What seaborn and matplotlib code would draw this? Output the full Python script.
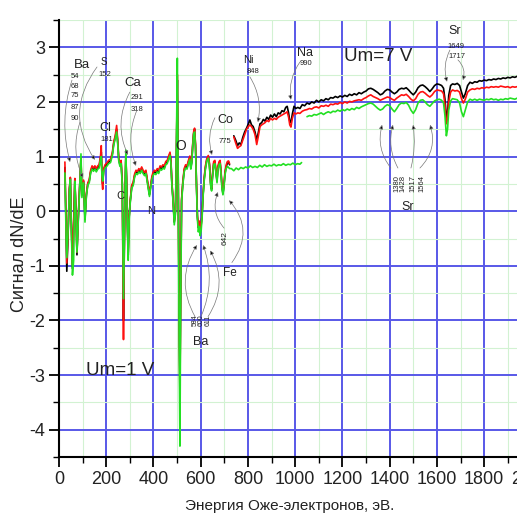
import matplotlib
matplotlib.use("Agg")
import matplotlib.pyplot as plt
from matplotlib.ticker import MultipleLocator
import seaborn as sns
import numpy as np

# ---------------- data ----------------
low_energy = [25, 30, 33, 38, 44, 48, 52, 57, 62, 67, 71, 76, 81, 88, 93, 97, 104, 110, 116, 122,
              128, 134, 140, 146, 152, 158, 164, 170, 176, 179, 182, 185, 189, 195, 202, 210, 218, 226, 232, 238,
              244, 248, 253, 258, 263, 268, 271, 273, 275, 279, 283, 286, 290, 293, 297, 302, 308, 314, 320, 326,
              332, 338, 344, 350, 356, 362, 368, 374, 378, 383, 388, 393, 398, 404, 410, 416, 422, 428, 434, 440,
              446, 452, 458, 464, 470, 474, 478, 483, 488, 493, 497, 501, 505, 509, 512, 515, 519, 524, 530, 536,
              542, 548, 554, 558, 562, 566, 570, 574, 578, 582, 586, 590, 594, 598, 602, 606, 610, 615, 620, 626,
              632, 637, 642, 646, 650, 655, 660, 665, 669, 673, 678, 682, 686, 690, 694, 698, 703, 708, 713, 718,
              722]
low_black = [0.80, -0.30, -1.10, -0.50, 0.40, 0.60, -0.20, -1.05, -0.30, 0.58, 0.10, -0.80, -0.20, 0.50, 0.95, 0.30, 0.55, -0.15, 0.30, 0.50,
             0.55, 0.72, 0.80, 0.76, 0.80, 0.75, 0.80, 0.82, 0.98, 1.08, 0.70, 0.50, 0.75, 0.82, 0.85, 0.90, 0.92, 1.05, 1.25, 1.35,
             1.50, 1.30, 0.95, 0.85, 0.90, 0.50, -1.00, -2.00, -1.20, 0.20, 1.00, 0.60, -0.30, -0.80, -0.10, 0.20, 0.45, 0.50, 0.65, 0.72,
             0.70, 0.75, 0.72, 0.78, 0.72, 0.68, 0.72, 0.55, 0.45, 0.30, 0.45, 0.60, 0.68, 0.72, 0.70, 0.75, 0.72, 0.80, 0.78, 0.82,
             0.80, 0.88, 0.90, 0.98, 1.05, 0.90, 0.50, 0.20, -0.20, 0.00, 1.00, 2.40, 0.50, -2.00, -3.20, -1.50, 0.20, 0.50, 0.75, 0.82,
             0.80, 0.90, 0.98, 0.80, 0.90, 1.20, 1.42, 1.50, 1.20, 0.50, -0.10, -0.30, -0.20, -0.35, -0.25, -0.05, 0.30, 0.60, 0.80, 0.95,
             1.00, 0.85, 0.50, 0.40, 0.65, 0.88, 0.90, 0.70, 0.55, 0.80, 0.88, 0.90, 0.70, 0.45, 0.32, 0.45, 0.70, 0.82, 0.88, 0.90,
             0.85]
low_red = [0.90, -0.20, -0.95, -0.45, 0.42, 0.62, -0.15, -1.00, -0.25, 0.60, 0.12, -0.75, -0.15, 0.52, 0.98, 0.32, 0.57, -0.10, 0.33, 0.52,
           0.58, 0.75, 0.83, 0.79, 0.83, 0.78, 0.83, 0.85, 1.02, 1.20, 0.55, 0.40, 0.78, 0.85, 0.88, 0.93, 0.95, 1.08, 1.28, 1.38,
           1.57, 1.33, 0.98, 0.88, 0.93, 0.52, -1.10, -2.35, -1.30, 0.22, 1.02, 0.62, -0.28, -0.75, -0.08, 0.22, 0.48, 0.53, 0.68, 0.75,
           0.73, 0.78, 0.75, 0.81, 0.75, 0.71, 0.75, 0.58, 0.48, 0.32, 0.48, 0.63, 0.71, 0.75, 0.73, 0.78, 0.75, 0.83, 0.81, 0.85,
           0.83, 0.91, 0.93, 1.01, 1.08, 0.93, 0.52, 0.22, -0.18, 0.02, 1.05, 2.50, 0.40, -2.20, -3.40, -1.60, 0.22, 0.53, 0.78, 0.85,
           0.83, 0.93, 1.01, 0.83, 0.93, 1.23, 1.45, 1.52, 1.22, 0.52, -0.08, -0.28, -0.18, -0.33, -0.23, -0.03, 0.32, 0.63, 0.83, 0.97,
           1.02, 0.88, 0.52, 0.42, 0.68, 0.91, 0.93, 0.73, 0.58, 0.83, 0.91, 0.93, 0.73, 0.48, 0.35, 0.48, 0.73, 0.85, 0.91, 0.92,
           0.87]
low_green = [0.70, -0.45, -0.85, -0.40, 0.38, 0.58, -0.30, -1.17, -0.90, 0.55, 0.05, -0.75, -0.25, 0.48, 1.05, 0.25, 0.52, -0.20, 0.28, 0.48,
             0.52, 0.70, 0.77, 0.73, 0.77, 0.72, 0.77, 0.79, 0.95, 1.00, 0.65, 0.55, 0.72, 0.79, 0.82, 0.87, 0.89, 1.02, 1.22, 1.32,
             1.45, 1.27, 0.92, 0.82, 0.87, 0.45, -0.90, -1.60, -1.00, 0.18, 1.12, 0.55, -0.40, -0.90, -0.15, 0.18, 0.42, 0.47, 0.62, 0.69,
             0.67, 0.72, 0.69, 0.75, 0.69, 0.65, 0.69, 0.52, 0.42, 0.27, 0.42, 0.57, 0.65, 0.69, 0.67, 0.72, 0.69, 0.77, 0.75, 0.79,
             0.77, 0.85, 0.87, 0.95, 1.02, 0.87, 0.47, 0.17, -0.25, -0.05, 1.20, 2.80, 0.30, -2.60, -4.30, -1.80, 0.15, 0.47, 0.72, 0.79,
             0.77, 0.87, 0.95, 0.77, 0.87, 1.17, 1.40, 1.45, 1.15, 0.45, -0.15, -0.38, -0.28, -0.45, -0.35, -0.10, 0.27, 0.57, 0.77, 0.92,
             0.97, 0.82, 0.47, 0.37, 0.62, 0.85, 0.87, 0.67, 0.52, 0.77, 0.85, 0.87, 0.67, 0.42, 0.30, 0.42, 0.67, 0.78, 0.82, 0.80,
             0.78]

mid_energy = [730, 740, 750, 760, 770, 780, 790, 800, 810, 820, 830, 840, 850, 860, 870, 880, 890, 900, 910, 920,
              930, 940, 950, 960, 970, 980, 990, 1000, 1010, 1020, 1027]
mid_green = [0.78, 0.74, 0.79, 0.76, 0.80, 0.78, 0.81, 0.79, 0.83, 0.80, 0.82, 0.80, 0.84, 0.81, 0.85, 0.82, 0.84, 0.83, 0.86, 0.83,
             0.85, 0.84, 0.87, 0.84, 0.86, 0.85, 0.88, 0.85, 0.87, 0.86, 0.89]

hi_energy = [740, 748, 756, 763, 770, 778, 786, 794, 802, 808, 815, 822, 830, 837, 843, 851, 858, 865, 872, 880,
             888, 896, 904, 912, 920, 928, 936, 944, 952, 960, 966, 972, 977, 982, 988, 995, 1003, 1011, 1020, 1030,
             1040, 1050, 1060, 1070, 1080, 1090, 1100, 1110, 1120, 1130, 1140, 1150, 1160, 1170, 1180, 1190, 1200, 1210, 1220, 1230,
             1240, 1250, 1260, 1270, 1280, 1290, 1300, 1310, 1320, 1330, 1340, 1350, 1360, 1370, 1380, 1390, 1400, 1410, 1420, 1430,
             1440, 1450, 1460, 1470, 1480, 1490, 1500, 1510, 1520, 1530, 1540, 1550, 1560, 1570, 1580, 1590, 1600, 1610, 1620, 1628,
             1634, 1640, 1645, 1650, 1658, 1666, 1676, 1686, 1696, 1704, 1712, 1720, 1730, 1740, 1750, 1760, 1770, 1780, 1790, 1800,
             1810, 1820, 1830, 1840, 1850, 1860, 1870, 1880, 1890, 1900, 1910, 1920, 1930, 1940]
hi_black = [1.38, 1.30, 1.20, 1.25, 1.22, 1.35, 1.45, 1.52, 1.60, 1.67, 1.58, 1.55, 1.45, 1.30, 1.42, 1.60, 1.62, 1.68, 1.65, 1.72,
            1.68, 1.76, 1.72, 1.78, 1.73, 1.80, 1.78, 1.84, 1.82, 1.90, 1.92, 1.80, 1.65, 1.62, 1.78, 1.92, 1.88, 1.90, 1.88, 1.95,
            1.93, 1.98, 1.96, 2.00, 1.98, 2.03, 2.00, 2.04, 2.02, 2.06, 2.04, 2.08, 2.07, 2.10, 2.08, 2.11, 2.09, 2.12, 2.10, 2.14,
            2.12, 2.15, 2.13, 2.17, 2.15, 2.18, 2.20, 2.24, 2.25, 2.23, 2.20, 2.17, 2.13, 2.15, 2.20, 2.23, 2.22, 2.18, 2.15, 2.18,
            2.23, 2.25, 2.24, 2.26, 2.22, 2.17, 2.13, 2.18, 2.26, 2.30, 2.31, 2.28, 2.24, 2.19, 2.24, 2.30, 2.33, 2.32, 2.30, 2.25,
            2.05, 1.72, 1.80, 2.12, 2.30, 2.33, 2.32, 2.34, 2.30, 2.18, 2.07, 2.15, 2.30, 2.36, 2.34, 2.37, 2.36, 2.39, 2.38, 2.40,
            2.39, 2.41, 2.40, 2.42, 2.41, 2.43, 2.42, 2.44, 2.43, 2.45, 2.44, 2.46, 2.45, 2.47]
hi_red = [1.36, 1.25, 1.15, 1.18, 1.20, 1.30, 1.40, 1.50, 1.55, 1.58, 1.55, 1.50, 1.40, 1.22, 1.35, 1.55, 1.58, 1.60, 1.62, 1.66,
          1.64, 1.70, 1.67, 1.70, 1.68, 1.72, 1.74, 1.76, 1.78, 1.80, 1.82, 1.72, 1.58, 1.54, 1.70, 1.80, 1.78, 1.80, 1.79, 1.83,
          1.85, 1.86, 1.88, 1.87, 1.90, 1.91, 1.89, 1.93, 1.92, 1.94, 1.92, 1.96, 1.95, 1.97, 1.96, 1.99, 1.97, 2.00, 1.98, 2.01,
          2.00, 2.02, 2.03, 2.04, 2.03, 2.06, 2.08, 2.11, 2.13, 2.10, 2.08, 2.06, 2.03, 2.05, 2.07, 2.09, 2.08, 2.05, 2.03, 2.07,
          2.10, 2.13, 2.12, 2.14, 2.10, 2.05, 2.02, 2.06, 2.14, 2.18, 2.19, 2.16, 2.12, 2.09, 2.13, 2.19, 2.22, 2.21, 2.20, 2.15,
          1.95, 1.60, 1.68, 2.00, 2.18, 2.22, 2.20, 2.21, 2.18, 2.06, 1.98, 2.05, 2.18, 2.22, 2.24, 2.23, 2.25, 2.24, 2.26, 2.25,
          2.27, 2.26, 2.28, 2.27, 2.28, 2.27, 2.29, 2.28, 2.27, 2.28, 2.26, 2.28, 2.27, 2.28]
hi_green = [None] * 41 + [
            1.73, 1.75, 1.74, 1.77, 1.76, 1.78, 1.80, 1.77, 1.80, 1.82, 1.80, 1.83, 1.82, 1.85, 1.83, 1.86, 1.84, 1.87, 1.85,
            1.88, 1.86, 1.90, 1.88, 1.91, 1.93, 1.95, 1.97, 1.98, 1.96, 1.92, 1.88, 1.85, 1.87, 1.92, 1.95, 1.93, 1.87, 1.82, 1.88,
            1.95, 1.98, 1.97, 1.99, 1.94, 1.85, 1.79, 1.86, 1.98, 2.03, 2.04, 2.00, 1.95, 1.92, 1.97, 2.02, 2.04, 2.05, 2.03, 1.98,
            1.75, 1.38, 1.50, 1.85, 2.02, 2.06, 2.05, 2.04, 1.98, 1.82, 1.73, 1.85, 2.00, 2.05, 2.03, 2.05, 2.03, 2.05, 2.04, 2.03,
            2.05, 2.04, 2.06, 2.04, 2.05, 2.03, 2.05, 2.04, 2.06, 2.05, 2.07, 2.06, 2.05, 2.07]

# labels: (text, energy, signal, size, rotation)
labels = [
    ("Ba", 97, 2.68, 9.5, 0), ("54", 68, 2.46, 5.5, 0), ("68", 68, 2.29, 5.5, 0), ("75", 68, 2.12, 5.5, 0),
    ("87", 68, 1.90, 5.5, 0), ("90", 68, 1.70, 5.5, 0),
    ("S", 190, 2.73, 7, 0), ("152", 192, 2.50, 5.5, 0),
    ("Ca", 313, 2.35, 9.5, 0), ("291", 330, 2.09, 5.5, 0), ("318", 330, 1.87, 5.5, 0),
    ("Cl", 195, 1.52, 9, 0), ("181", 203, 1.32, 5.5, 0),
    ("C", 262, 0.28, 8, 0), ("N", 389, 0.0, 8, 0), ("O", 516, 1.19, 10, 0),
    ("Co", 703, 1.67, 9, 0), ("775", 703, 1.27, 5.5, 0),
    ("Ni", 800, 2.77, 8, 0), ("848", 821, 2.55, 5.5, 0),
    ("Na", 1041, 2.90, 9, 0), ("990", 1046, 2.70, 5.5, 0),
    ("Um=7 V", 1350, 2.83, 13.5, 0),
    ("Sr", 1676, 3.30, 9, 0), ("1649", 1680, 3.01, 5.5, 0), ("1717", 1683, 2.83, 5.5, 0),
    ("1380", 1430, 0.51, 5.5, 90), ("1428", 1458, 0.51, 5.5, 90), ("1517", 1497, 0.51, 5.5, 90),
    ("1564", 1535, 0.51, 5.5, 90), ("Sr", 1477, 0.07, 9, 0),
    ("642", 703, -0.50, 6, 90), ("Fe", 724, -1.14, 8.5, 0),
    ("584", 576, -2.0, 5, 90), ("600", 601, -2.0, 5, 90), ("611", 631, -2.0, 5, 90),
    ("Ba", 601, -2.40, 9, 0), ("Um=1 V", 258, -2.92, 13.5, 0),
]

# leader arrows: (start energy, start signal, tip energy, tip signal, curvature)
arrows = [
    (55, 2.40, 47, 0.90, 0.15), (89, 1.63, 102, 0.61, 0.2), (161, 2.64, 152, 0.94, 0.35),
    (300, 2.18, 292, 1.03, 0.25), (330, 1.85, 326, 0.83, 0.2), (660, 1.71, 648, 1.03, 0.2),
    (808, 2.46, 842, 1.63, -0.2), (1020, 2.73, 982, 2.04, 0.2), (1655, 2.95, 1643, 2.37, 0.2),
    (1689, 2.77, 1710, 2.40, -0.3), (1405, 0.79, 1368, 1.58, -0.25), (1435, 0.79, 1414, 1.58, -0.2),
    (1490, 0.79, 1499, 1.58, 0.1), (1528, 0.79, 1571, 1.58, 0.3), (699, -0.31, 673, 0.35, -0.3),
    (732, -0.94, 720, 0.20, 0.4), (576, -1.93, 584, -0.62, -0.3), (601, -1.93, 610, -0.62, 0.2),
    (631, -1.93, 640, -0.72, 0.3),
]

# ---------------- styling ----------------
sns.set_theme(style="white")
plt.rcParams["font.family"] = ["Liberation Sans Narrow", "Liberation Sans", "DejaVu Sans"]
plt.rcParams["axes.unicode_minus"] = False

fig = plt.figure(figsize=(5.17, 5.18), dpi=100)
ax = fig.add_axes([59 / 517, 61 / 518, 472.4 / 517, 437 / 518])

def draw(xs, ys, color):
    pts = [(x, y) for x, y in zip(xs, ys) if y is not None]
    sns.lineplot(x=[p[0] for p in pts], y=[p[1] for p in pts], color=color, lw=1.2,
                 estimator=None, sort=False, ax=ax)

draw(low_energy, low_black, "black")
draw(hi_energy, hi_black, "black")
draw(low_energy, low_red, "#ff1010")
draw(hi_energy, hi_red, "#ff1010")
draw(low_energy + mid_energy, low_green + mid_green, "#22e022")
draw(hi_energy, hi_green, "#22e022")

ax.set_xlim(0, 2000)
ax.set_ylim(-4.5, 3.5)
ax.xaxis.set_major_locator(MultipleLocator(200))
ax.xaxis.set_minor_locator(MultipleLocator(100))
ax.yaxis.set_major_locator(MultipleLocator(1))
ax.yaxis.set_minor_locator(MultipleLocator(0.5))
ax.grid(which="minor", color="#d2f2d2", lw=0.8)
ax.grid(which="major", color="#5858e8", lw=1.4)
ax.set_axisbelow(True)

for s in ["top", "right"]:
    ax.spines[s].set_visible(False)
for s in ["left", "bottom"]:
    ax.spines[s].set_color("black")
    ax.spines[s].set_linewidth(1.5)
ax.tick_params(which="major", direction="out", length=7, width=1.3, colors="black",
               labelsize=13, labelcolor="#222222", left=True, bottom=True, pad=3)
ax.tick_params(which="minor", direction="out", length=4, width=1.0, colors="black",
               left=True, bottom=True)

ax.set_xlabel("Энергия Оже-электронов, эВ.", fontsize=11, color="#222222")
ax.set_ylabel("Сигнал dN/dE", fontsize=13, color="#222222")
ax.xaxis.set_label_coords(0.489, -0.095)
ax.yaxis.set_label_coords(-0.066, 0.465)

for txt, xe, ys, size, rot in labels:
    ax.text(xe, ys, txt, fontsize=size, rotation=rot, ha="center", va="center", color="#222222")

for x0, y0, x1, y1, rad in arrows:
    ax.annotate("", xy=(x1, y1), xytext=(x0, y0),
                arrowprops=dict(arrowstyle="-|>", lw=0.5, ec="#777777", fc="black",
                                mutation_scale=6, shrinkA=0, shrinkB=0,
                                connectionstyle=f"arc3,rad={rad}"))

fig.savefig("out.png", dpi=100)
